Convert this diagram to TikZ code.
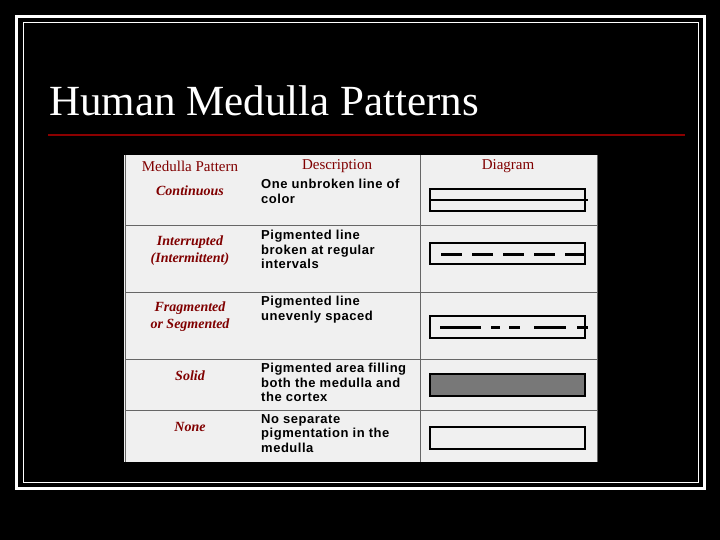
\documentclass[tikz,border=0pt]{standalone}
\usepackage{fontspec}
\setmainfont{Liberation Serif}
\newfontfamily\descfont[LetterSpace=4]{Liberation Sans}
\begin{document}
\begin{tikzpicture}[x=1pt,y=-1pt,
  pat/.style={font=\fontsize{14}{17}\selectfont\bfseries\itshape, text=red!50!black, align=center},
  hdr/.style={font=\fontsize{15}{16}\selectfont, text=red!50!black},
  desc/.style={font=\descfont\fontsize{13}{14.5}\selectfont\bfseries, anchor=north west, align=left, inner sep=0pt},
  dbox/.style={draw=black, line width=2pt},
  grid/.style={draw=black!60, line width=0.6pt}]
\useasboundingbox (0,0) rectangle (720,540);
\fill[black] (0,0) rectangle (720,540);
\draw[white, line width=3pt] (16.5,16.5) rectangle (704.5,488.5);
\draw[white, line width=1pt] (23,23) rectangle (698,482);
\node[anchor=base west, text=white, font=\fontsize{43}{46}\selectfont, inner sep=0pt] (title) at (49,116) {Human Medulla Patterns};
\draw[red!55!black, line width=1.5pt] (48,135) -- (685,135);
% table
\fill[black!6] (124,155) rectangle (598,462);
\draw[grid] (125,155) -- (125,462);
\draw[grid] (420,155) -- (420,462);
\draw[grid] (597,155) -- (597,462);
\foreach \yy in {225,292,359,410} \draw[grid] (125,\yy) -- (597,\yy);
\node[hdr] (h1) at (190,166) {Medulla Pattern};
\node[hdr] (h2) at (337,166) {Description};
\node[hdr] (h3) at (508,166) {Diagram};
\node[pat] (p1) at (190,191) {Continuous};
\node[pat] (p2) at (190,251) {Interrupted\\(Intermittent)};
\node[pat] (p3) at (190,317) {Fragmented\\or Segmented};
\node[pat] (p4) at (190,376) {Solid};
\node[pat] (p5) at (190,427) {None};
\node[desc] (d1) at (261,179) {One unbroken line of\\color};
\node[desc] (d2) at (261,230) {Pigmented line\\broken at regular\\intervals};
\node[desc] (d3) at (261,296) {Pigmented line\\unevenly spaced};
\node[desc] (d4) at (261,363) {Pigmented area filling\\both the medulla and\\the cortex};
\node[desc] (d5) at (261,414) {No separate\\pigmentation in the\\medulla};
% diagrams
\draw[dbox] (430,189) rectangle (585,211);
\draw[line width=2.5pt] (430,200) -- (588,200);
\draw[dbox] (430,243) rectangle (585,264);
\draw[line width=3pt, dash pattern=on 21pt off 10pt] (441,254) -- (588,254);
\draw[dbox] (430,316) rectangle (585,338);
\draw[line width=3pt] (440,327) -- (481,327) (491,327) -- (500,327) (509,327) -- (520,327) (534,327) -- (566,327) (577,327) -- (588,327);
\draw[dbox, fill=black!53] (430,374) rectangle (585,396);
\draw[dbox] (430,427) rectangle (585,449);
\end{tikzpicture}
\end{document}
